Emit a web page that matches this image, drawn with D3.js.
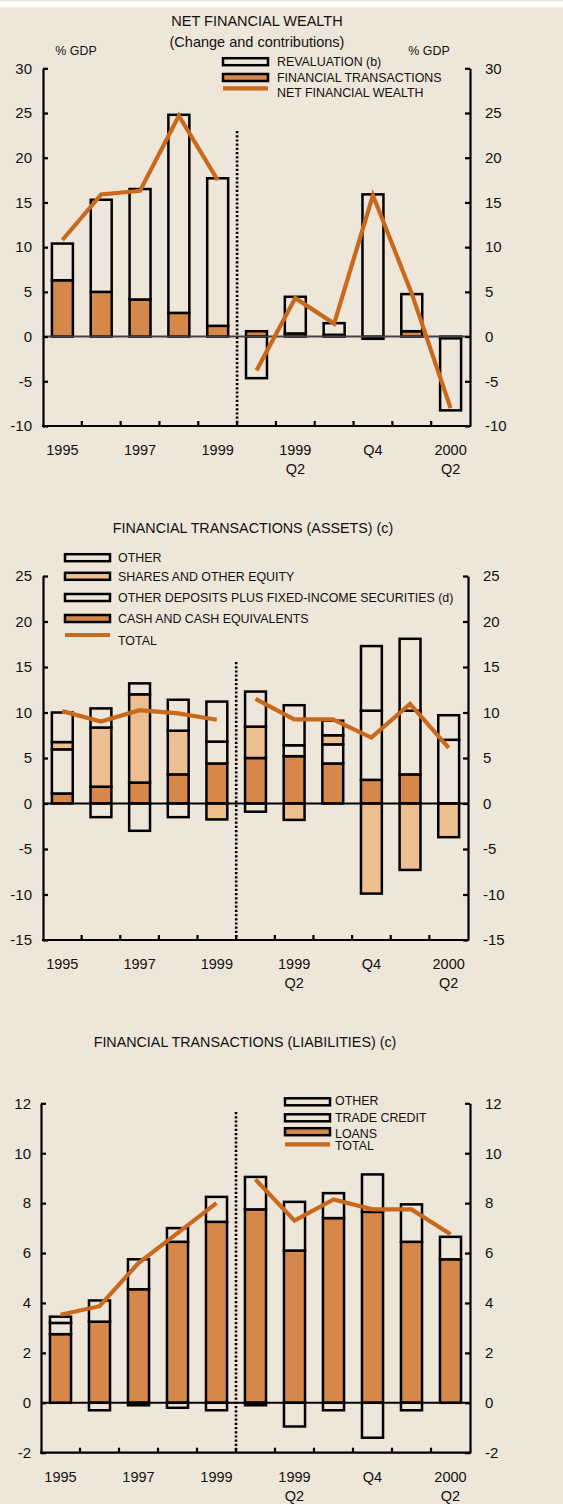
<!DOCTYPE html>
<html>
<head>
<meta charset="utf-8">
<script src="https://cdn.jsdelivr.net/npm/d3@7"></script>
<style>
  body { margin: 0; background: #eee6d9; }
  svg { display: block; font-family: "Liberation Sans", Arial, sans-serif; }
</style>
</head>
<body>
<svg id="chart" width="563" height="1504"></svg>
<script>
// periods: five years, then quarters 1999 Q1 .. 2000 Q2
const periods = ["1995", "1996", "1997", "1998", "1999",
                 "1999Q1", "1999Q2", "1999Q3", "1999Q4", "2000Q1", "2000Q2"];
const periodLabels = { "1995": ["1995"], "1997": ["1997"], "1999": ["1999"],
                       "1999Q2": ["1999", "Q2"], "1999Q4": ["Q4"], "2000Q2": ["2000", "Q2"] };

// net financial wealth (% GDP)
const finTransactions = [6.3, 5.0, 4.15, 2.65, 1.2, 0.6, 0.35, 0.2, -0.25, 0.6, -0.2];
const revaluation     = [4.1, 10.3, 12.35, 22.15, 16.5, -4.65, 4.1, 1.3, 15.9, 4.15, -8.05];
const netWealth       = [10.8, 15.9, 16.3, 24.7, 17.5, -3.8, 4.3, 1.45, 15.8, 4.8, -8.0];
const wealthTicks = [-10, -5, 0, 5, 10, 15, 20, 25, 30];

// financial transactions, assets
const cashEquivalents = [1.1, 1.85, 2.3, 3.2, 4.4, 5.0, 5.2, 4.4, 2.6, 3.2, 0];
const depositsFixed   = [4.85, -1.5, -3.0, -1.5, 2.4, -0.9, 1.2, 2.1, 7.6, 7.0, 7.0];
const sharesEquity    = [0.8, 6.5, 9.7, 4.8, -1.75, 3.45, -1.8, 1.0, -9.9, -7.3, -3.7];
const otherAssets     = [3.25, 2.1, 1.2, 3.4, 4.4, 3.85, 4.4, 1.6, 7.1, 7.9, 2.7];
const assetsTotal     = [10.15, 9.0, 10.25, 9.9, 9.2, 11.5, 9.25, 9.25, 7.25, 10.95, 6.1];
const assetTicks = [-15, -10, -5, 0, 5, 10, 15, 20, 25];

// financial transactions, liabilities
const loans       = [2.75, 3.25, 4.55, 6.45, 7.25, 7.75, 6.1, 7.4, 7.65, 6.45, 5.75];
const tradeCredit = [0.45, 0.85, 1.2, 0.55, 1.0, 1.3, 1.95, 1.0, 1.5, 1.5, 0.9];
const otherLiab   = [0.25, -0.3, -0.1, -0.2, -0.3, -0.1, -0.95, -0.3, -1.4, -0.3, 0];
const liabTotal   = [3.53, 3.87, 5.6, 6.8, 8.0, 8.95, 7.3, 8.15, 7.75, 7.75, 6.75];
const liabTicks = [-2, 0, 2, 4, 6, 8, 10, 12];

const bg = "#eee6d9", orange = "#d5884a", peach = "#edbf90", lineCol = "#c8691c";

const svg = d3.select("#chart");
svg.append("rect").attr("width", 563).attr("height", 1504).attr("fill", bg);
svg.append("rect").attr("y", 1.3).attr("width", 563).attr("height", 6).attr("fill", "#fff");

function drawPanel(opt) {
  const g = svg.append("g");
  const x = d3.scaleBand().domain(periods).range([opt.x0, opt.x1])
              .paddingInner(0.46).paddingOuter(0.23);
  const y = d3.scaleLinear().domain(opt.yDomain).range([opt.yBottom, opt.yTop]);
  const bw = x.bandwidth();
  const step = x.step();

  const rows = periods.map((p, i) => {
    const r = { period: p };
    opt.series.forEach(s => r[s.key] = s.values[i]);
    return r;
  });
  const stacked = d3.stack().keys(opt.series.map(s => s.key))
                    .offset(d3.stackOffsetDiverging)(rows);

  stacked.forEach((layer, li) => {
    g.append("g").selectAll("rect").data(layer).join("rect")
      .attr("x", d => x(d.data.period))
      .attr("y", d => y(Math.max(d[0], d[1])))
      .attr("width", bw)
      .attr("height", d => Math.abs(y(d[0]) - y(d[1])))
      .attr("fill", opt.series[li].fill)
      .attr("stroke", "#000")
      .attr("stroke-width", 2.5);
  });

  // zero line
  g.append("line")
    .attr("x1", opt.x0).attr("x2", opt.x1)
    .attr("y1", y(0)).attr("y2", y(0))
    .attr("stroke", opt.zeroColor).attr("stroke-width", 2);

  // total line, annual and quarterly parts drawn separately
  const line = d3.line().x(d => x(d.p) + bw / 2).y(d => y(d.v));
  const pts = periods.map((p, i) => ({ p: p, v: opt.total[i] }));
  [pts.slice(0, 5), pts.slice(5)].forEach(seg => {
    g.append("path").attr("d", line(seg))
      .attr("fill", "none").attr("stroke", lineCol).attr("stroke-width", 4.2);
  });

  // divider between annual and quarterly data
  const divX = opt.x0 + 5 * step;
  g.append("line")
    .attr("x1", divX).attr("x2", divX)
    .attr("y1", opt.dividerTop).attr("y2", opt.yBottom)
    .attr("stroke", "#000").attr("stroke-width", 2.6).attr("stroke-dasharray", "2.2,2");

  // y axes
  const fmt = d => String(d);
  const left = g.append("g").attr("transform", `translate(${opt.x0},0)`)
    .call(d3.axisLeft(y).tickValues(opt.ticks).tickFormat(fmt)
            .tickSizeInner(-5).tickSizeOuter(0).tickPadding(opt.padL));
  const right = g.append("g").attr("transform", `translate(${opt.x1},0)`)
    .call(d3.axisRight(y).tickValues(opt.ticks).tickFormat(fmt)
            .tickSizeInner(-5).tickSizeOuter(0).tickPadding(15));
  [left, right].forEach(a => {
    a.select(".domain").attr("stroke-width", 2.2);
    a.selectAll(".tick line").attr("stroke-width", 2.2);
    a.selectAll(".tick text").attr("font-size", 15).attr("fill", "#111")
      .attr("font-family", "Liberation Sans, Arial, sans-serif");
  });

  // x axis
  g.append("line")
    .attr("x1", opt.x0 - 1).attr("x2", opt.x1 + 1)
    .attr("y1", opt.yBottom).attr("y2", opt.yBottom)
    .attr("stroke", "#000").attr("stroke-width", 2.2);
  g.append("g").selectAll("line").data(d3.range(1, periods.length)).join("line")
    .attr("x1", i => opt.x0 + i * step).attr("x2", i => opt.x0 + i * step)
    .attr("y1", opt.yBottom).attr("y2", opt.yBottom - 5)
    .attr("stroke", "#000").attr("stroke-width", 2.2);
  const lab = g.append("g").selectAll("text")
    .data(periods.filter(p => periodLabels[p])).join("text")
    .attr("x", p => x(p) + bw / 2)
    .attr("y", opt.yBottom + 29)
    .attr("text-anchor", "middle").attr("font-size", 14.5).attr("fill", "#111");
  lab.selectAll("tspan").data(p => periodLabels[p]).join("tspan")
    .attr("x", function() { return d3.select(this.parentNode).attr("x"); })
    .attr("dy", (d, i) => i === 0 ? 0 : 19)
    .text(d => d);

  // titles
  opt.titles.forEach(t => {
    g.append("text").attr("x", t.x).attr("y", t.y).attr("text-anchor", "middle")
      .attr("font-size", t.size).attr("fill", "#111").text(t.text);
  });

  // legend
  const leg = g.append("g");
  opt.legend.forEach(item => {
    if (item.fill) {
      leg.append("rect").attr("x", opt.legX).attr("y", item.sy - 3.5)
        .attr("width", 45).attr("height", 7)
        .attr("fill", item.fill).attr("stroke", "#000").attr("stroke-width", 2.5);
    } else {
      leg.append("line").attr("x1", opt.legX).attr("x2", opt.legX + 45)
        .attr("y1", item.sy).attr("y2", item.sy)
        .attr("stroke", lineCol).attr("stroke-width", 4.2);
    }
    leg.append("text").attr("x", opt.legX + opt.legGap).attr("y", item.ty + 4.4)
      .attr("font-size", 12.4).attr("fill", "#111").text(item.label);
  });
}

drawPanel({
  x0: 43, x1: 470, yTop: 68.3, yBottom: 426, yDomain: [-10, 30], ticks: wealthTicks,
  padL: 11, zeroColor: "#444", dividerTop: 131,
  series: [
    { key: "fin", values: finTransactions, fill: orange },
    { key: "rev", values: revaluation, fill: bg }
  ],
  total: netWealth,
  titles: [
    { text: "NET FINANCIAL WEALTH", x: 257, y: 26, size: 14.5 },
    { text: "(Change and contributions)", x: 257, y: 47, size: 14.5 },
    { text: "% GDP", x: 76, y: 55, size: 12.4 },
    { text: "% GDP", x: 429, y: 55, size: 12.4 }
  ],
  legX: 223, legGap: 54,
  legend: [
    { label: "REVALUATION (b)", fill: bg, sy: 61.7, ty: 62 },
    { label: "FINANCIAL TRANSACTIONS", fill: orange, sy: 77.5, ty: 77.5 },
    { label: "NET FINANCIAL WEALTH", sy: 88.3, ty: 93 }
  ]
});

drawPanel({
  x0: 43, x1: 468, yTop: 576, yBottom: 940, yDomain: [-15, 25], ticks: assetTicks,
  padL: 11, zeroColor: "#000", dividerTop: 662,
  series: [
    { key: "cash", values: cashEquivalents, fill: orange },
    { key: "dep", values: depositsFixed, fill: bg },
    { key: "shares", values: sharesEquity, fill: peach },
    { key: "other", values: otherAssets, fill: bg }
  ],
  total: assetsTotal,
  titles: [
    { text: "FINANCIAL TRANSACTIONS (ASSETS) (c)", x: 253, y: 533, size: 14.3 }
  ],
  legX: 65, legGap: 53,
  legend: [
    { label: "OTHER", fill: bg, sy: 557.7, ty: 557.7 },
    { label: "SHARES AND OTHER EQUITY", fill: peach, sy: 576.3, ty: 576.7 },
    { label: "OTHER DEPOSITS PLUS FIXED-INCOME SECURITIES (d)", fill: bg, sy: 597.5, ty: 597.7 },
    { label: "CASH AND CASH EQUIVALENTS", fill: orange, sy: 618.5, ty: 618.3 },
    { label: "TOTAL", sy: 635, ty: 640.7 }
  ]
});

drawPanel({
  x0: 41, x1: 470, yTop: 1103.3, yBottom: 1452.7, yDomain: [-2, 12], ticks: liabTicks,
  padL: 10, zeroColor: "#000", dividerTop: 1112,
  series: [
    { key: "loans", values: loans, fill: orange },
    { key: "trade", values: tradeCredit, fill: bg },
    { key: "other", values: otherLiab, fill: bg }
  ],
  total: liabTotal,
  titles: [
    { text: "FINANCIAL TRANSACTIONS (LIABILITIES) (c)", x: 245, y: 1046.7, size: 14.3 }
  ],
  legX: 285, legGap: 50,
  legend: [
    { label: "OTHER", fill: bg, sy: 1101.8, ty: 1101 },
    { label: "TRADE CREDIT", fill: bg, sy: 1117.8, ty: 1117.3 },
    { label: "LOANS", fill: orange, sy: 1131.7, ty: 1133.3 },
    { label: "TOTAL", sy: 1144.3, ty: 1146 }
  ]
});
</script>
</body>
</html>
